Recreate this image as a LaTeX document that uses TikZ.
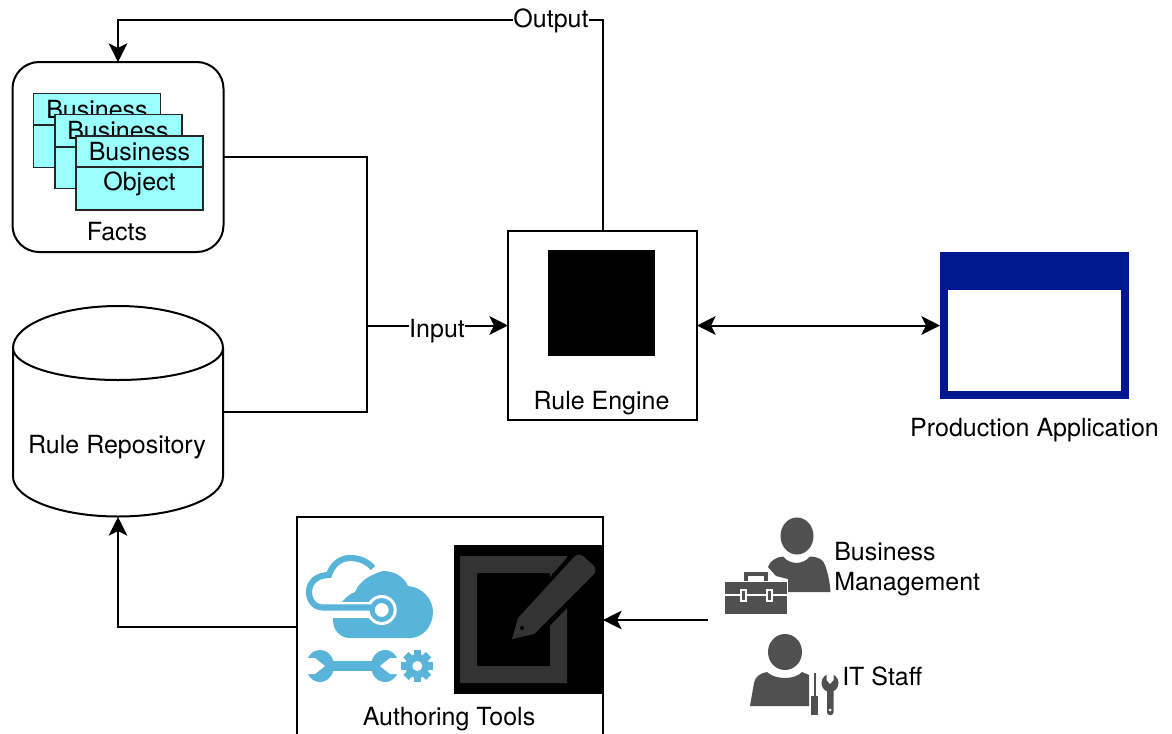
\documentclass[tikz,border=0pt]{standalone}
\usepackage{fontspec}
\setmainfont{TeX Gyre Heros}
\usetikzlibrary{arrows.meta}
\definecolor{aquacard}{HTML}{99FFFF}
\definecolor{appblue}{HTML}{00188F}
\definecolor{azureblue}{HTML}{59B4D9}
\definecolor{persongrey}{HTML}{505050}
\definecolor{pengrey}{HTML}{333333}
\tikzset{
  px/.style={x=.75pt,y=-.75pt},
  boxed/.style={draw=black,line width=1.5pt,fill=white,inner sep=0pt,outer sep=0pt},
  card/.style={draw=black!85,line width=1.2pt,fill=aquacard,inner sep=0pt,outer sep=0pt,minimum width={127*.75pt},minimum height={74*.75pt}},
  ghost/.style={inner sep=0pt,outer sep=0pt},
  txt/.style={font=\fontsize{18.75pt}{22.5pt}\selectfont,inner sep=0pt,anchor=base},
  ltxt/.style={txt,anchor=base west},
  wire/.style={line width=1.5pt,draw=black},
  arr/.style={wire,-{Stealth[length=14pt,width=14pt,inset=3.5pt]}},
  dblarr/.style={wire,{Stealth[length=14pt,width=14pt,inset=3.5pt]}-{Stealth[length=14pt,width=14pt,inset=3.5pt]}},
  wirelabel/.style={txt,fill=white,inner sep=0pt,text depth=0pt}
}
\begin{document}
\begin{tikzpicture}[px]
\clip (0,0) rectangle (1172,733);
\fill[white] (0,0) rectangle (1172,733);

% Facts
\node[boxed,rounded corners=20pt,minimum width={211*.75pt},minimum height={190*.75pt}] (facts) at (118,157) {};
\node[card] (c1) at (97,130.5) {};
\draw[line width=1.2pt,black!85] (33,125) -- (161,125);
\node[txt] (t1) at (97,118) {Business};
\node[card] (c2) at (118.5,151.5) {};
\draw[line width=1.2pt,black!85] (55,147) -- (182,147);
\node[txt] (t2) at (118,139) {Business};
\node[card] (c3) at (139.5,173) {};
\draw[line width=1.2pt,black!85] (76,167) -- (203,167);
\node[txt] (t3) at (139.5,160) {Business};
\node[txt] (t4) at (139.5,190) {Object};
\node[txt] (factslabel) at (117,240) {Facts};

% Repository
\node[ghost,minimum width={210*.75pt},minimum height={211*.75pt}] (repo) at (118,411.5) {};
\draw[line width=1.5pt,fill=white] (13,348) arc[start angle=180,end angle=360,x radius=105,y radius=42]
  -- (223,476.5) arc[start angle=0,end angle=180,x radius=105,y radius=40] -- cycle;
\draw[line width=1.5pt] (13,348) arc[start angle=180,end angle=0,x radius=105,y radius=32];
\node[txt] (repolabel) at (117,453) {Rule Repository};

% Engine
\node[boxed,minimum width={189*.75pt},minimum height={189*.75pt}] (engine) at (602.5,325.5) {};
\fill[black] (548,250) rectangle (655,356);
\node[txt] (enginelabel) at (601.5,409) {Rule Engine};

% Application
\node[ghost,fill=appblue,minimum width={189*.75pt},minimum height={147*.75pt}] (app) at (1034.5,325.5) {};
\fill[white] (948,290) rectangle (1121,391);
\node[txt] (applabel) at (1034.5,436) {Production Application};

% Authoring tools
\node[boxed,minimum width={306*.75pt},minimum height={220*.75pt}] (auth) at (450,627) {};
\fill[black] (454,545) rectangle (603,694);
\fill[pengrey,even odd rule] (460,556) rectangle (567,683) (477,573) rectangle (550,666);
\fill[black] (552,573) rectangle (569,608);
\fill[black] (512,639) -- (516,616) -- (573,551) -- (580,551) -- (600,568) -- (600,574) -- (536,640) -- cycle;
\fill[pengrey] (512,639) -- (518,618) -- (574,557) .. controls (577,554) and (580,554) .. (583,556)
  -- (593,565) .. controls (596,568) and (596,571) .. (594,574) -- (534,634) -- cycle;
\fill[black] (522,628) circle (2);
\node[txt] (authlabel) at (449,725) {Authoring Tools};

% Azure icons
\fill[azureblue] (350,638) .. controls (340,638) and (333,630) .. (333,620)
  .. controls (333,612) and (345,595) .. (355,592)
  .. controls (360,580) and (372,574) .. (383,571)
  .. controls (395,571) and (404,577) .. (408,586)
  .. controls (422,587) and (433,599) .. (433,612)
  .. controls (433,627) and (422,638) .. (410,638) -- cycle;
\draw[white,line width=12pt] (325,610) -- (381,610);
\fill[white] (381.7,610) circle (15);
\draw[azureblue,line width=4.6pt] (381,607.5) -- (323,607.5)
  .. controls (314,607.5) and (309,600) .. (309,592)
  .. controls (309,583) and (316,575) .. (329,575)
  .. controls (332,565) and (340,558) .. (350,558)
  .. controls (360,558) and (368,562) .. (373,568);
\fill[white] (381.7,610) circle (8);
\draw[azureblue,line width=3.7pt] (381.7,610) circle (9.5);
% wrench
\fill[azureblue] (320,666) ellipse [x radius=14,y radius=16];
\fill[azureblue] (385,666) ellipse [x radius=14,y radius=16];
\fill[azureblue] (328,661) rectangle (378,670.5);
\fill[white] (304,658) -- (315,658) -- (325,666) -- (315,674) -- (304,674) -- cycle;
\fill[white] (401,658) -- (390,658) -- (380,666) -- (390,674) -- (401,674) -- cycle;
% gear
\foreach \a in {0,45,...,315}
  \fill[azureblue,rotate around={\a:(417.3,666)}] (413.5,650) rectangle (421,660);
\fill[azureblue] (417.3,666) circle (12);
\fill[white] (417.3,666) circle (5);

% Business management person
\fill[persongrey] (797,536) ellipse [x radius=16.5,y radius=18.5];
\fill[persongrey] (768,567) .. controls (770,561) and (776,557) .. (783,556.5)
  .. controls (790,565) and (803,565) .. (810,556.5)
  .. controls (818,557) and (823,559) .. (825,565)
  .. controls (828,573) and (830,583) .. (830.5,592)
  -- (788,592) -- (788,579) -- (776,576) -- cycle;
\fill[white] (742,569.5) rectangle (771,582);
\draw[persongrey,line width=3pt] (746,582) -- (746,574) -- (766,574) -- (766,582);
\fill[white] (723.5,580.5) rectangle (788,615);
\fill[persongrey] (725,582) rectangle (787,614);
\draw[white,line width=1.5pt] (725,595) -- (787,595);
\fill[white] (739.5,588.5) rectangle (747,602);
\fill[persongrey] (742,591) rectangle (744.5,600);
\fill[white] (765.5,588.5) rectangle (773,602);
\fill[persongrey] (768,591) rectangle (770.5,600);
\node[ltxt] (bm1) at (834,560) {Business};
\node[ltxt] (bm2) at (834,590) {Management};

% IT staff person
\fill[persongrey] (785,652) ellipse [x radius=17,y radius=18];
\fill[persongrey] (750,706) -- (754,683) .. controls (755,677) and (760,673) .. (767,672)
  .. controls (775,680) and (795,680) .. (802,672)
  -- (809,675) -- (809,706) -- cycle;
\fill[persongrey] (813.5,673) rectangle (816,696);
\fill[persongrey] (811,696) -- (818,696) -- (818,715) -- (811,715) -- cycle;
\fill[persongrey] (830,683) ellipse [x radius=8.5,y radius=9];
\fill[white] (826.5,672) -- (833.5,672) -- (833.5,680) -- (830,684) -- (826.5,680) -- cycle;
\fill[persongrey,rounded corners=2pt] (827,688) rectangle (833.5,715);
\fill[white] (830.2,710) circle (1.5);
\node[ltxt] (it) at (842,685) {IT Staff};

% Connectors
\coordinate (join) at (367,325.5);
\coordinate (peopleend) at (708,620);
\coordinate (authin) at (auth.east |- peopleend);
\draw[wire] (facts.east) -| (join);
\draw[wire] (repo.east) -| (join);
\draw[arr] (join) -- (engine.west);
\node[wirelabel] (inputlabel) at (437,337) {Input};
\draw[arr] (engine.north) |- (551,20) -| (facts.north);
\node[wirelabel] (outputlabel) at (551,27) {Output};
\draw[dblarr] (engine.east) -- (app.west);
\draw[arr] (auth.west) -| (repo.south);
\draw[arr] (peopleend) -- (authin);
\end{tikzpicture}
\end{document}
